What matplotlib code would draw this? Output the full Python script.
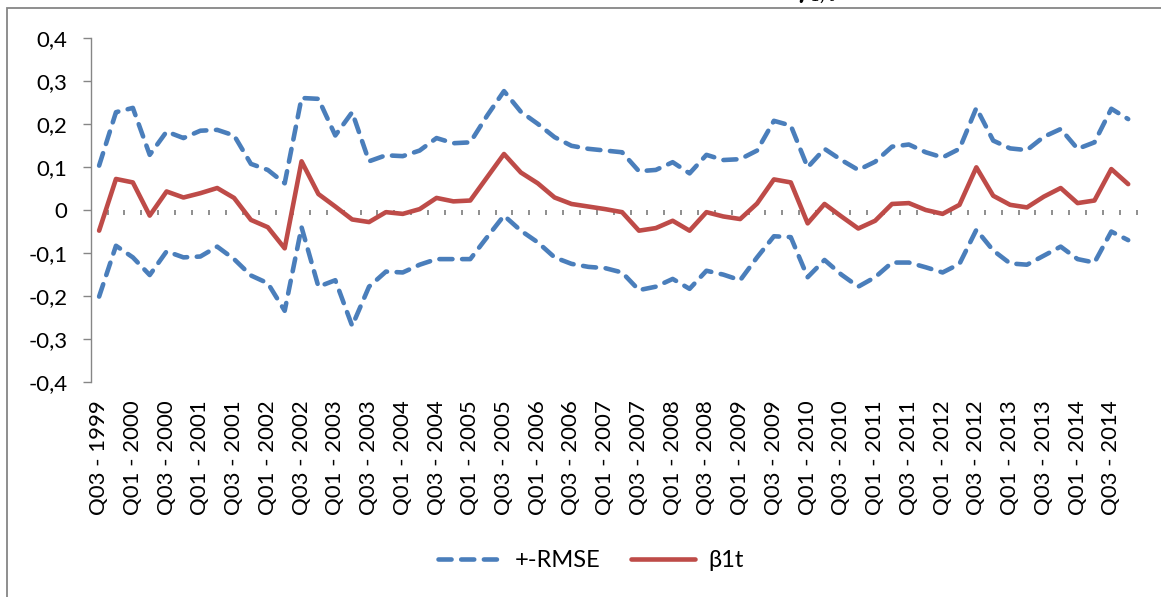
"""
Rolling beta_1t estimate with +/- RMSE band, quarterly 1999Q3 - 2014Q4.
"""
import matplotlib
matplotlib.use("Agg")
import matplotlib.pyplot as plt
from matplotlib.patches import Rectangle

plt.rcParams["font.family"] = ["Lato", "DejaVu Sans"]

# quarters Q3-1999 .. Q4-2014
years = list(range(1999, 2015))
periods = [(q, y) for y in years for q in (1, 2, 3, 4) if not (y == 1999 and q < 3)]
period_labels = [f"Q{q:02d} - {y}" for q, y in periods]

beta = [-0.048, 0.072, 0.064, -0.013, 0.043, 0.029, 0.039, 0.051, 0.028, -0.023,
        -0.040, -0.089, 0.113, 0.037, 0.008, -0.022, -0.028, -0.005, -0.009, 0.002,
        0.028, 0.020, 0.022, 0.076, 0.130, 0.087, 0.062, 0.029, 0.014, 0.008,
        0.002, -0.005, -0.048, -0.042, -0.025, -0.048, -0.005, -0.015, -0.021, 0.015,
        0.071, 0.064, -0.031, 0.014, -0.015, -0.043, -0.025, 0.014, 0.016, 0.000,
        -0.009, 0.012, 0.099, 0.033, 0.012, 0.006, 0.031, 0.051, 0.016, 0.022,
        0.095, 0.060]

upper = [0.103, 0.227, 0.237, 0.128, 0.182, 0.167, 0.184, 0.186, 0.173, 0.107,
         0.093, 0.062, 0.260, 0.258, 0.173, 0.227, 0.113, 0.127, 0.125, 0.138,
         0.167, 0.155, 0.157, 0.219, 0.276, 0.228, 0.200, 0.169, 0.149, 0.142,
         0.138, 0.134, 0.090, 0.093, 0.111, 0.085, 0.128, 0.116, 0.118, 0.138,
         0.207, 0.196, 0.099, 0.142, 0.116, 0.093, 0.112, 0.147, 0.152, 0.134,
         0.122, 0.142, 0.237, 0.161, 0.143, 0.139, 0.170, 0.188, 0.142, 0.157,
         0.235, 0.211]

lower = [-0.201, -0.083, -0.110, -0.151, -0.096, -0.110, -0.108, -0.085, -0.114, -0.152,
         -0.170, -0.234, -0.040, -0.178, -0.163, -0.269, -0.178, -0.143, -0.145, -0.127,
         -0.114, -0.114, -0.114, -0.063, -0.013, -0.048, -0.075, -0.110, -0.125, -0.132,
         -0.135, -0.145, -0.186, -0.178, -0.160, -0.183, -0.141, -0.150, -0.163, -0.110,
         -0.061, -0.063, -0.156, -0.116, -0.150, -0.178, -0.156, -0.122, -0.122, -0.133,
         -0.145, -0.125, -0.046, -0.094, -0.124, -0.127, -0.106, -0.085, -0.114, -0.122,
         -0.050, -0.070]

y_ticks = [-0.4, -0.3, -0.2, -0.1, 0.0, 0.1, 0.2, 0.3, 0.4]
y_tick_labels = ["-0,4", "-0,3", "-0,2", "-0,1", "0", "0,1", "0,2", "0,3", "0,4"]

BLUE = "#4A7EBB"
RED = "#BE4B48"
AXIS = "#868686"
FS = 16

fig = plt.figure(figsize=(11.61, 5.97), dpi=100)
ax = fig.add_axes([0.0781, 0.3596, 0.9009, 0.5773])

x = list(range(len(period_labels)))
dash = dict(linestyle=(0, (2.85, 2.1)), dash_capstyle="round")
ax.plot(x, upper, color=BLUE, linewidth=3.3, label="+-RMSE", **dash)
ax.plot(x, lower, color=BLUE, linewidth=3.3, **dash)
ax.plot(x, beta, color=RED, linewidth=3.3, solid_capstyle="round", label="β1t")

ax.set_xlim(-0.5, len(x) - 0.5)
ax.set_ylim(-0.4, 0.4)
ax.set_yticks(y_ticks)
ax.set_yticklabels(y_tick_labels)

# category labels every second quarter along the bottom
ax.set_xticks(x[::2])
ax.set_xticklabels(period_labels[::2])
ax.set_xticks([i + 0.5 for i in x], minor=True)
ax.tick_params(axis="x", which="major", bottom=False, top=False, length=0,
               pad=13, labelrotation=90, labelsize=FS)
ax.tick_params(axis="x", which="minor", bottom=False, top=True, direction="in",
               length=3.5, width=1.3, color=AXIS)
ax.tick_params(axis="y", which="major", length=5.8, width=1, color=AXIS,
               pad=11, labelsize=FS)

# horizontal axis crosses at zero, drawn as tick marks only
ax.spines["top"].set_position(("data", 0))
ax.spines["top"].set_color("none")
ax.spines["right"].set_visible(False)
ax.spines["bottom"].set_visible(False)
ax.spines["left"].set_color(AXIS)
ax.spines["left"].set_linewidth(1)

fig.legend(loc="center", bbox_to_anchor=(0.509, 0.061), ncol=2, frameon=False,
           fontsize=FS + 1, handlelength=2.7, handletextpad=0.55, columnspacing=1.3)

# chart border (partly outside the picture) and clipped caption above it
fig.patches.append(Rectangle((7 / 1161, -0.1), 1.2, 1 - 7.5 / 597 + 0.1,
                             transform=fig.transFigure, fill=False,
                             edgecolor=AXIS, linewidth=1.3))
fig.text(795 / 1161, 1 - 6 / 597, r"$\gamma_{1,t}$", fontsize=17, va="bottom",
         math_fontfamily="dejavuserif")

fig.savefig("out.png", dpi=100)
